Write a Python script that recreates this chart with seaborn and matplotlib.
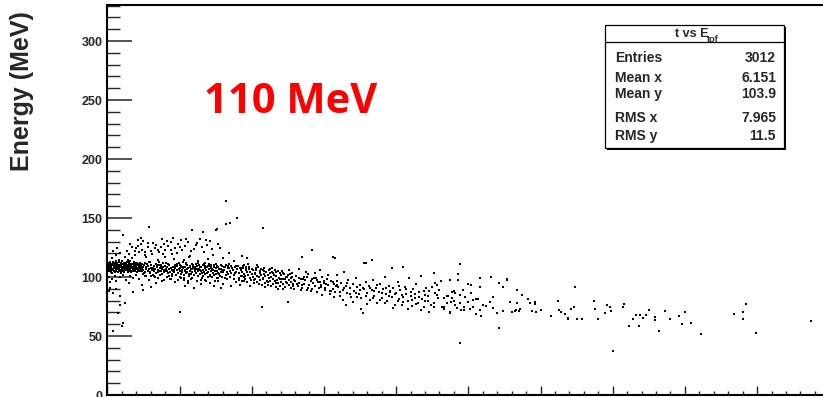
import matplotlib
matplotlib.use("Agg")
import matplotlib.pyplot as plt
import pandas as pd
import seaborn as sns
from matplotlib.patches import Rectangle
from matplotlib.lines import Line2D
from matplotlib.ticker import MultipleLocator

# time-of-flight t (ns) vs reconstructed energy (MeV), grouped by region of the plane
core_pts = [
    (0.02, 108.1), (0.05, 110.3), (0.07, 106.4), (0.1, 112.2), (0.12, 104.9), (0.15, 109.2), (0.18, 107.5), (0.2, 111.4),
    (0.22, 113.1), (0.25, 105.8), (0.27, 108.8), (0.3, 110.9), (0.33, 103.6), (0.35, 107.0), (0.38, 109.8), (0.4, 112.6),
    (0.42, 106.1), (0.45, 108.4), (0.48, 111.0), (0.5, 104.4), (0.52, 109.5), (0.55, 107.8), (0.58, 113.4), (0.6, 105.3),
    (0.62, 110.6), (0.65, 108.0), (0.68, 106.7), (0.7, 111.9), (0.72, 104.0), (0.75, 109.1), (0.78, 107.2), (0.8, 112.9),
    (0.82, 105.6), (0.85, 110.2), (0.88, 108.6), (0.9, 106.3), (0.92, 111.6), (0.95, 103.2), (0.98, 109.7), (1.0, 107.4),
    (1.02, 113.8), (1.05, 105.1), (1.08, 110.7), (1.1, 108.3), (1.12, 106.9), (1.15, 112.1), (1.18, 104.6), (1.2, 109.4),
    (1.22, 107.1), (1.25, 111.3), (1.28, 105.7), (1.3, 110.0), (1.32, 108.7), (1.35, 106.2), (1.38, 112.7), (1.4, 104.2),
    (1.42, 109.0), (1.45, 107.6), (1.48, 111.8), (1.5, 105.0), (1.52, 110.4), (1.55, 108.2), (1.58, 106.5), (1.6, 113.2),
    (1.62, 103.9), (1.65, 109.6), (1.68, 107.3), (1.7, 111.1), (1.72, 105.4), (1.75, 110.8), (1.78, 108.9), (1.8, 106.0),
    (1.82, 112.4), (1.85, 104.7), (1.88, 109.3), (1.9, 107.7), (1.92, 111.5), (1.95, 105.9), (1.98, 110.1), (2.0, 108.5),
    (2.02, 106.6), (2.05, 112.0), (2.08, 104.3), (2.1, 109.9), (2.12, 107.9), (2.15, 111.2), (2.18, 105.2), (2.2, 110.5),
    (2.22, 108.1), (2.25, 106.8), (2.28, 112.3), (2.3, 104.8), (2.32, 109.2), (2.35, 107.0), (2.38, 110.9), (2.4, 105.5),
    (0.03, 105.6), (0.08, 109.0), (0.13, 111.1), (0.17, 106.9), (0.23, 108.6), (0.28, 104.1), (0.32, 110.0), (0.37, 112.0),
    (0.43, 107.4), (0.47, 105.0), (0.53, 111.5), (0.57, 106.0), (0.63, 108.9), (0.67, 112.3), (0.73, 106.6), (0.77, 110.4),
    (0.83, 107.9), (0.87, 104.8), (0.93, 109.4), (0.97, 111.2), (1.03, 106.7), (1.07, 108.0), (1.13, 110.3), (1.17, 105.4),
    (1.23, 108.5), (1.27, 112.0), (1.33, 107.2), (1.37, 110.6), (1.43, 105.8), (1.47, 108.1), (1.53, 112.5), (1.57, 106.4),
    (1.63, 110.9), (1.67, 104.9), (1.73, 108.0), (1.77, 106.6), (1.83, 110.6), (1.87, 107.1), (1.93, 105.3), (1.97, 109.0),
    (2.03, 110.2), (2.07, 107.4), (2.13, 105.8), (2.17, 109.5), (2.23, 106.1), (2.27, 110.4), (2.33, 108.3), (2.37, 106.4),
]

band_pts = [
    (2.45, 108.2), (2.5, 106.0), (2.55, 110.5), (2.6, 104.4), (2.65, 108.9), (2.7, 107.1), (2.75, 111.2), (2.8, 105.3),
    (2.85, 109.6), (2.9, 106.8), (2.95, 103.7), (3.0, 108.0), (3.05, 110.3), (3.1, 105.9), (3.15, 107.6), (3.2, 104.9),
    (3.25, 109.1), (3.3, 106.5), (3.35, 111.0), (3.4, 103.5), (3.45, 108.4), (3.5, 106.2), (3.55, 109.8), (3.6, 104.7),
    (3.65, 107.3), (3.7, 105.5), (3.75, 110.1), (3.8, 102.9), (3.85, 108.6), (3.9, 106.0), (3.95, 104.2), (4.0, 109.3),
    (4.05, 107.0), (4.1, 105.2), (4.15, 108.1), (4.2, 103.8), (4.25, 106.7), (4.3, 110.4), (4.35, 104.6), (4.4, 107.8),
    (4.45, 105.8), (4.5, 102.6), (4.55, 108.3), (4.6, 106.3), (4.65, 104.0), (4.7, 107.5), (4.75, 101.9), (4.8, 105.6),
    (4.85, 109.0), (4.9, 103.3), (4.95, 106.9), (5.0, 104.8), (5.05, 108.0), (5.1, 102.4), (5.15, 106.1), (5.2, 104.3),
    (5.25, 107.7), (5.3, 101.5), (5.35, 105.2), (5.4, 108.5), (5.45, 103.1), (5.5, 106.6), (5.55, 104.5), (5.6, 107.9),
    (5.65, 100.9), (5.7, 105.5), (5.75, 108.2), (5.8, 102.8), (5.85, 106.4), (5.9, 104.1), (5.95, 107.4), (6.0, 101.7),
    (6.05, 105.3), (6.1, 108.7), (6.15, 103.4), (6.2, 106.8), (6.25, 100.5), (6.3, 104.7), (6.35, 107.2), (6.4, 102.2),
    (6.45, 105.9), (6.5, 108.4), (6.55, 103.8), (6.6, 106.2), (6.65, 101.2), (6.7, 104.4), (6.75, 107.6), (6.8, 102.6),
    (6.85, 105.7), (6.9, 108.9), (6.95, 100.3), (7.0, 104.0), (7.05, 106.9), (7.1, 102.0), (7.15, 105.1), (7.2, 107.8),
    (7.25, 99.8), (7.3, 103.6), (7.35, 106.3), (7.4, 101.4), (7.45, 104.8), (7.5, 107.3), (7.55, 102.9), (7.6, 105.5),
    (7.65, 99.2), (7.7, 103.2), (7.75, 106.6), (7.8, 101.0), (7.85, 104.2), (7.9, 107.0), (7.95, 100.1), (8.0, 103.9),
    (8.1, 106.1), (8.2, 101.8), (8.3, 104.6), (8.4, 107.4), (8.5, 99.6), (8.6, 103.1), (8.7, 105.8), (8.8, 101.3),
    (8.9, 104.4), (9.0, 106.8),
    (2.52, 103.1), (3.87, 111.6), (5.12, 99.3), (6.78, 109.4), (8.33, 102.7), (2.98, 112.4), (4.46, 100.8), (7.21, 110.2),
    (5.83, 98.4), (3.63, 101.7), (8.91, 109.1), (6.12, 111.3), (4.09, 112.0), (7.58, 98.9), (2.71, 101.2), (5.47, 110.7),
    (8.06, 108.3), (3.28, 99.9), (6.47, 97.8), (4.83, 111.1), (7.93, 105.6), (2.87, 113.0), (5.66, 102.2), (8.62, 108.0),
    (3.49, 104.3), (6.91, 103.5), (4.31, 98.6), (7.36, 108.7), (5.24, 112.4), (8.47, 105.0), (3.14, 102.0), (6.33, 110.1),
    (4.68, 109.6), (7.73, 102.4), (2.62, 111.8), (5.93, 109.9), (8.78, 97.9), (3.77, 107.0), (6.59, 99.3), (4.17, 110.9),
    (7.04, 111.0), (5.34, 99.0), (8.21, 110.6), (3.41, 110.5), (6.05, 106.4), (4.57, 104.9), (7.49, 96.9), (5.72, 104.7),
    (8.68, 106.3), (3.02, 100.6), (9.27, 105.9), (9.48, 110.3), (9.13, 97.6), (9.39, 107.9), (9.56, 100.9), (6.69, 110.8),
    (5.03, 110.2), (3.94, 97.7), (7.63, 109.5), (4.92, 97.3), (2.44, 102.2), (6.24, 109.0), (8.14, 99.1), (3.56, 112.8),
    (5.58, 96.7), (7.12, 100.9), (4.26, 101.2), (8.87, 103.0), (6.86, 96.5), (5.38, 105.9), (2.93, 104.6), (3.72, 108.9),
    (4.63, 108.8), (5.79, 107.0), (6.52, 105.2), (7.27, 106.8), (8.39, 109.7), (3.19, 106.9), (4.02, 105.5), (5.17, 108.6),
]

ridge_pts = [
    (5.08, 109.3), (5.29, 108.9), (5.52, 110.0), (5.71, 109.1), (5.96, 108.6), (6.18, 109.7), (6.39, 108.8), (6.63, 110.4),
    (6.94, 109.6), (7.16, 108.5), (7.41, 109.9), (7.67, 108.4), (7.88, 110.1), (8.12, 108.9), (8.36, 107.8), (8.58, 109.4),
    (8.83, 108.1), (9.07, 109.5), (9.31, 108.0), (9.58, 106.5), (9.83, 107.2), (10.09, 105.9), (10.31, 107.6), (10.63, 106.4),
    (10.88, 104.8), (11.17, 105.6), (11.42, 103.9), (11.69, 104.5), (11.93, 103.2), (12.24, 102.8), (12.52, 101.3), (12.79, 103.7),
    (13.04, 101.0), (13.31, 99.2), (13.57, 98.3), (13.86, 99.9), (14.15, 97.9), (14.45, 98.9), (14.72, 96.1), (15.01, 96.8),
    (4.72, 110.6), (4.97, 111.9), (5.43, 111.6), (5.88, 111.2), (6.27, 111.8), (6.74, 112.1), (7.07, 109.2), (7.52, 110.8),
    (7.97, 109.0), (8.45, 111.4),
]

lower_pts = [
    (0.1, 100.2), (0.3, 98.4), (0.5, 101.1), (0.6, 96.9), (0.9, 99.6), (1.1, 101.5), (1.3, 97.8), (1.6, 100.6),
    (1.8, 99.0), (2.0, 101.9), (2.2, 98.1), (2.6, 100.9), (2.9, 97.3), (3.2, 101.2), (3.5, 99.4), (3.8, 96.2),
    (4.1, 100.3), (4.4, 98.6), (4.7, 95.7), (5.0, 99.9), (5.3, 97.1), (5.6, 94.8), (5.9, 98.8), (6.2, 96.4),
    (6.5, 93.9), (6.8, 97.7), (7.1, 95.3), (7.4, 92.8), (7.7, 96.6), (8.0, 94.2), (8.3, 97.9), (8.6, 92.2),
    (8.9, 95.6), (3.4, 95.0), (2.4, 93.3), (5.4, 92.5), (6.0, 91.0), (7.9, 90.6), (1.5, 94.6), (0.2, 95.4),
]

upper_pts = [
    (1.1, 136.0), (2.3, 133.0), (2.1, 131.5), (2.5, 130.4), (2.9, 142.6), (0.6, 118.5), (0.9, 120.3), (1.2, 117.1),
    (1.5, 119.6), (1.9, 122.0), (2.0, 124.3), (2.2, 120.8), (2.4, 123.0), (2.6, 121.5), (2.8, 125.2), (3.0, 122.3),
    (3.1, 119.4), (3.3, 124.6), (3.4, 127.1), (3.6, 121.2), (3.7, 125.8), (3.9, 128.3), (4.0, 123.1), (4.2, 126.2),
    (4.4, 129.4), (4.5, 119.8), (4.7, 124.4), (4.9, 127.6), (5.1, 131.0), (5.2, 122.5), (5.4, 126.6), (5.6, 129.8),
    (5.7, 117.4), (5.9, 140.0), (6.0, 124.0), (6.2, 128.5), (6.4, 132.6), (6.6, 138.0), (6.7, 121.3), (6.9, 126.9),
    (7.1, 130.2), (7.3, 118.6), (7.5, 140.0), (7.6, 141.0), (7.8, 124.7), (8.2, 164.4), (8.2, 145.0), (8.5, 145.5),
    (9.0, 149.7), (8.0, 116.2), (8.4, 120.5), (8.8, 113.8), (9.65, 115.8), (9.3, 118.0), (10.8, 141.3), (1.4, 114.6),
    (0.3, 116.0), (0.8, 114.4), (1.7, 115.9), (2.7, 116.8), (3.5, 114.8), (4.6, 115.3), (5.3, 114.1), (6.3, 113.9),
    (7.0, 115.0), (0.4, 121.8), (3.8, 131.8), (2.1, 126.5),
    (1.35, 121.9), (1.72, 125.6), (2.35, 127.9), (2.58, 118.9), (3.18, 128.7), (3.52, 123.2), (3.83, 119.1), (4.12, 130.6),
    (4.38, 122.7), (4.81, 120.6), (5.02, 125.2), (5.48, 132.3), (5.81, 121.9), (6.11, 127.3), (6.53, 125.6), (6.82, 131.4),
    (7.24, 123.8), (7.69, 127.9), (2.84, 129.2), (1.95, 118.4), (3.97, 116.6), (5.63, 116.9), (0.7, 124.5), (1.58, 127.8),
    (4.55, 133.2),
]

low_pts = [
    (0.2, 91.0), (0.15, 88.3), (0.4, 86.2), (0.6, 89.5), (0.9, 84.0), (0.9, 76.0), (1.2, 78.0), (0.75, 69.5),
    (1.0, 58.5), (1.1, 61.0), (0.4, 54.0), (2.5, 89.0), (5.0, 70.6), (10.7, 74.3), (1.8, 87.4), (3.0, 91.6),
]

mid_pts = [
    (9.1, 103.2), (9.15, 99.4), (9.2, 107.5), (9.25, 101.0), (9.3, 96.8), (9.35, 104.6), (9.4, 109.0), (9.45, 100.2),
    (9.5, 102.9), (9.55, 98.1), (9.6, 106.3), (9.65, 103.9), (9.7, 95.7), (9.75, 101.6), (9.8, 108.2), (9.85, 99.0),
    (9.9, 104.2), (9.95, 97.2), (10.0, 102.4), (10.05, 106.9), (10.1, 100.0), (10.15, 94.6), (10.2, 103.5), (10.25, 98.6),
    (10.3, 105.8), (10.35, 101.2), (10.4, 96.1), (10.45, 108.6), (10.5, 99.7), (10.55, 103.0), (10.6, 97.6), (10.65, 101.8),
    (10.7, 93.6), (10.75, 106.0), (10.8, 99.1), (10.85, 102.6), (10.9, 95.2), (10.95, 100.6), (11.0, 104.4), (11.05, 97.0),
    (11.1, 101.4), (11.15, 93.0), (11.2, 99.3), (11.25, 103.7), (11.3, 96.3), (11.35, 100.2), (11.4, 107.4), (11.45, 94.4),
    (11.5, 98.5), (11.55, 102.1), (11.6, 96.8), (11.65, 91.9), (11.7, 100.9), (11.75, 97.4), (11.8, 104.9), (11.85, 95.0),
    (11.9, 99.0), (11.95, 92.7), (12.0, 101.7), (12.05, 96.0), (12.1, 98.2), (12.15, 103.3), (12.2, 94.1), (12.25, 97.9),
    (12.3, 91.3), (12.35, 100.4), (12.4, 95.6), (12.45, 99.6), (12.5, 79.0), (12.55, 93.4), (12.6, 97.1), (12.65, 102.5),
    (12.7, 90.6), (12.75, 95.8), (12.8, 99.9), (12.85, 93.8), (12.9, 97.6), (12.95, 89.8), (13.0, 96.2),
    (13.1, 100.8), (13.2, 92.6), (13.3, 95.1), (13.4, 98.7), (13.5, 116.7), (13.5, 90.4), (13.6, 94.0), (13.7, 97.5),
    (13.8, 88.9), (13.9, 102.8), (14.0, 93.1), (14.1, 96.6), (14.2, 122.9), (14.2, 90.1), (14.3, 99.4), (14.4, 92.0),
    (14.5, 87.6), (14.6, 95.4), (14.7, 106.2), (14.8, 91.2), (14.9, 84.6), (15.0, 94.6), (15.1, 89.4), (15.2, 98.0),
    (15.3, 92.9), (15.4, 85.8), (15.5, 96.9), (15.6, 117.0), (15.6, 90.0), (15.7, 93.7), (15.8, 115.8), (15.8, 87.0),
    (15.9, 101.3), (16.0, 91.6), (16.1, 84.0), (16.2, 95.0), (16.3, 89.0), (16.4, 104.0), (16.5, 76.3), (16.5, 92.4),
    (16.6, 86.4), (16.7, 97.8), (16.8, 90.7), (16.9, 83.4), (17.0, 94.3),
    (9.22, 93.1), (10.37, 109.8), (11.63, 105.8), (12.88, 92.3), (13.74, 104.4), (14.53, 97.7), (15.31, 101.9), (9.71, 111.2),
    (10.92, 91.4), (11.28, 106.6), (12.17, 89.6), (13.26, 107.1), (14.12, 88.0), (15.06, 90.8), (9.46, 97.0), (10.58, 105.1),
    (11.84, 90.2), (12.61, 106.1), (13.47, 93.0), (14.88, 99.8), (15.63, 95.9), (9.87, 92.5), (10.13, 97.3), (11.47, 103.0),
    (12.34, 98.4), (13.92, 91.0), (14.37, 103.4), (15.82, 92.1), (10.76, 97.9), (11.12, 95.8), (12.72, 99.4), (13.13, 94.3),
    (14.66, 90.5), (15.44, 87.9), (9.33, 100.9), (10.49, 94.2), (11.95, 98.1), (12.47, 94.7), (13.61, 100.1), (14.27, 95.0),
    (15.17, 93.8), (9.63, 108.4), (10.84, 107.9), (11.36, 92.6), (12.09, 104.9), (13.39, 89.2), (14.79, 93.6), (15.93, 96.6),
    (10.22, 102.7), (11.71, 94.8),
]

far_pts = [
    (17.1, 88.2), (17.2, 99.5), (17.3, 91.9), (17.4, 85.2), (17.5, 93.5), (17.6, 81.8), (17.7, 69.8), (17.8, 111.6),
    (17.8, 89.6), (17.9, 112.0), (17.9, 95.6), (18.0, 86.8), (18.1, 92.2), (18.2, 80.6), (18.3, 114.0), (18.3, 88.6),
    (18.4, 97.2), (18.5, 84.3), (18.6, 91.0), (18.7, 78.3), (18.8, 87.5), (18.9, 94.1), (19.0, 82.5), (19.1, 89.9),
    (19.2, 100.4), (19.3, 85.5), (19.4, 79.6), (19.5, 92.8), (19.6, 87.1), (19.7, 107.6), (19.7, 83.0), (19.8, 90.3),
    (19.9, 76.6), (20.0, 86.2), (20.1, 96.0), (20.2, 81.2), (20.3, 88.9), (20.4, 84.7), (20.5, 108.5), (20.5, 78.9),
    (20.6, 91.5), (20.7, 86.0), (20.8, 80.0), (20.9, 98.9), (21.0, 84.0), (21.1, 75.4), (21.2, 89.5), (21.3, 82.2),
    (21.4, 93.8), (21.5, 78.0), (21.6, 86.9), (21.7, 101.2), (21.8, 81.6), (21.9, 74.3), (22.0, 84.9), (22.1, 90.4),
    (22.2, 79.3), (22.3, 70.0),
    (15.5, 88.3), (15.7, 82.9), (15.9, 93.2), (16.1, 87.7), (16.3, 80.4), (16.4, 91.1), (16.6, 94.6), (16.8, 85.3),
    (17.0, 79.1), (17.2, 86.5), (17.3, 83.1), (17.5, 89.1), (17.6, 73.0), (17.7, 91.0), (17.9, 84.2), (18.0, 77.2),
    (18.2, 90.6), (18.4, 82.4), (18.5, 87.9), (18.7, 93.0), (18.9, 80.9), (19.0, 86.1), (19.2, 77.7), (19.3, 90.9),
    (19.5, 83.7), (19.6, 88.0), (19.8, 73.9), (19.9, 85.6), (20.1, 79.5), (20.2, 92.1), (20.4, 76.7), (20.5, 82.9),
    (20.7, 89.6), (20.8, 72.8), (21.0, 87.2), (21.1, 80.8), (21.3, 85.9), (21.4, 77.0), (21.6, 83.2), (21.7, 72.4),
    (21.9, 88.2), (22.0, 79.8), (22.2, 83.7), (22.4, 76.3), (22.5, 91.6), (23.3, 74.5), (23.5, 77.8), (23.9, 82.0),
    (24.6, 88.6), (25.0, 78.4),
]

tail_pts = [
    (22.3, 88.1), (22.7, 94.6), (22.8, 93.2), (22.7, 86.2), (22.8, 84.7), (22.6, 78.2), (22.6, 74.3), (22.9, 81.9),
    (23.1, 96.6), (23.0, 89.0), (23.2, 74.8), (23.3, 72.9), (23.3, 81.9), (23.5, 84.2), (23.6, 83.6), (23.7, 97.5),
    (23.7, 70.6), (23.7, 69.2), (23.9, 87.5), (24.0, 88.1), (24.1, 86.7), (23.8, 79.0), (24.0, 79.7), (24.1, 76.3),
    (24.2, 74.0), (24.3, 97.5), (24.4, 84.7), (24.4, 78.2), (24.5, 72.0), (24.7, 72.0), (24.7, 74.8), (24.4, 44.3),
    (24.8, 83.3), (25.0, 93.8), (25.2, 93.2), (25.1, 72.9), (25.3, 74.8), (25.2, 86.2), (25.3, 80.5), (25.5, 81.4),
    (25.7, 81.1), (25.5, 68.4), (25.8, 91.3), (25.8, 72.0), (25.9, 66.9), (26.0, 76.3), (26.2, 75.4), (26.5, 79.0),
    (26.7, 74.0), (26.7, 83.3), (27.0, 69.2), (27.1, 57.0), (27.4, 71.2), (27.7, 98.0), (27.9, 79.0), (28.0, 70.6),
    (28.2, 71.4), (28.3, 72.0), (28.5, 71.2), (28.6, 72.6), (28.4, 78.2), (28.7, 84.7), (29.3, 77.7), (29.4, 71.4),
    (29.7, 70.6), (30.0, 72.0), (30.7, 67.2), (31.9, 65.0), (32.1, 72.9),
    (22.6, 103.6), (24.4, 111.0), (24.3, 102.3), (26.6, 100.3), (25.8, 99.4), (27.7, 97.5), (27.1, 95.2), (27.4, 91.8),
    (28.4, 89.0), (32.4, 91.3), (29.1, 81.4), (29.6, 79.0), (29.6, 77.0), (31.2, 79.7), (31.3, 72.0), (31.4, 70.6),
    (31.7, 68.4), (32.3, 74.8), (31.9, 64.0), (32.5, 64.4), (32.9, 64.4), (33.7, 79.7), (33.8, 72.9), (34.0, 64.4),
    (34.5, 69.7), (34.8, 74.3), (34.9, 71.4), (34.6, 76.3), (35.0, 37.3), (35.7, 74.8), (35.8, 77.0), (36.1, 58.7),
    (36.4, 64.0), (36.6, 67.8), (36.9, 67.8), (36.8, 58.5), (37.1, 65.0), (37.3, 67.8), (37.5, 72.0), (37.9, 65.8),
    (37.9, 63.6), (38.2, 54.2), (38.6, 71.4), (39.0, 64.4), (39.6, 66.9), (39.8, 60.2), (40.0, 70.3), (40.4, 60.7),
    (41.1, 51.7), (43.4, 68.4), (44.0, 70.6), (44.0, 64.2), (44.2, 76.9), (44.9, 52.8), (48.7, 63.0),
]

stat_names = ["Entries", "Mean x", "Mean y", "RMS x", "RMS y"]
stat_values = ["3012", "6.151", "103.9", "7.965", "11.5"]
y_ticks = [0, 50, 100, 150, 200, 250, 300]
x_ticks = [0, 5, 10, 15, 20, 25, 30, 35, 40, 45, 50]

sns.set_style("white")
plt.rcParams["font.family"] = ["Liberation Sans", "DejaVu Sans"]

W, H = 823, 397
fig = plt.figure(figsize=(W / 100, H / 100), dpi=100)


def fx(px):
    return px / W


def fy(py):
    return 1 - py / H


ax = fig.add_axes([fx(107.3), fy(395.0), 722.0 / W, 390.3 / H])

points = (core_pts + band_pts + ridge_pts + lower_pts + upper_pts + low_pts
          + mid_pts + far_pts + tail_pts)
df = pd.DataFrame(points, columns=["t", "E"])
sns.scatterplot(data=df, x="t", y="E", ax=ax, marker="s", s=3.6,
                color="black", linewidth=0, legend=False)

ax.set_xlim(0, 50)
ax.set_ylim(0, 330.8)
ax.set_xlabel("")
ax.set_ylabel("")
ax.set_yticks(y_ticks)
ax.set_xticks(x_ticks)
ax.set_xticklabels([])
ax.yaxis.set_minor_locator(MultipleLocator(10))
ax.xaxis.set_minor_locator(MultipleLocator(1))
ax.tick_params(axis="y", which="major", direction="in", length=18, width=1.1,
               labelsize=9, pad=3.6, left=True)
ax.tick_params(axis="y", which="minor", direction="in", length=9, width=1.0, left=True)
ax.tick_params(axis="x", which="major", direction="in", length=6.5, width=1.0, bottom=True)
ax.tick_params(axis="x", which="minor", direction="in", length=3.2, width=1.0, bottom=True)
for lab in ax.get_yticklabels():
    lab.set_fontweight("bold")
for sp in ax.spines.values():
    sp.set_visible(True)
    sp.set_color("black")
    sp.set_linewidth(1.5)

fig.text(fx(22.5), fy(91.5), "Energy (MeV)", rotation=90, fontsize=18,
         fontweight="bold", ha="center", va="center")

fig.text(fx(204), fy(113.3), "110 MeV", fontsize=30, fontweight="bold",
         family=["Open Sans", "DejaVu Sans"], color="#ff0000",
         ha="left", va="baseline")

# statistics box with drop shadow
bx0, by0, bx1, by1 = 605, 25, 784, 148
fig.add_artist(Rectangle((fx(bx0 + 2), fy(by1 + 2)), (bx1 - bx0) / W, (by1 - by0) / H,
                         transform=fig.transFigure, facecolor="black", edgecolor="none", zorder=5))
fig.add_artist(Rectangle((fx(bx0), fy(by1)), (bx1 - bx0) / W, (by1 - by0) / H,
                         transform=fig.transFigure, facecolor="white", edgecolor="black",
                         linewidth=0.9, zorder=6))
fig.add_artist(Line2D([fx(bx0), fx(bx1)], [fy(42), fy(42)], transform=fig.transFigure,
                      color="black", linewidth=0.9, zorder=7))
fig.text(fx(692), fy(37), "t vs E", fontsize=9, fontweight="bold",
         ha="center", va="baseline", zorder=8)
fig.text(fx(707), fy(42), "tof", fontsize=6.5, fontweight="bold",
         ha="left", va="baseline", zorder=8)

row_baselines = [62, 82, 98, 122, 140]
for name, val, yb in zip(stat_names, stat_values, row_baselines):
    fig.text(fx(615), fy(yb), name, fontsize=10, fontweight="bold",
             ha="left", va="baseline", zorder=8)
    fig.text(fx(776), fy(yb), val, fontsize=10, fontweight="bold",
             ha="right", va="baseline", zorder=8)

fig.savefig("out.png", dpi=100)
